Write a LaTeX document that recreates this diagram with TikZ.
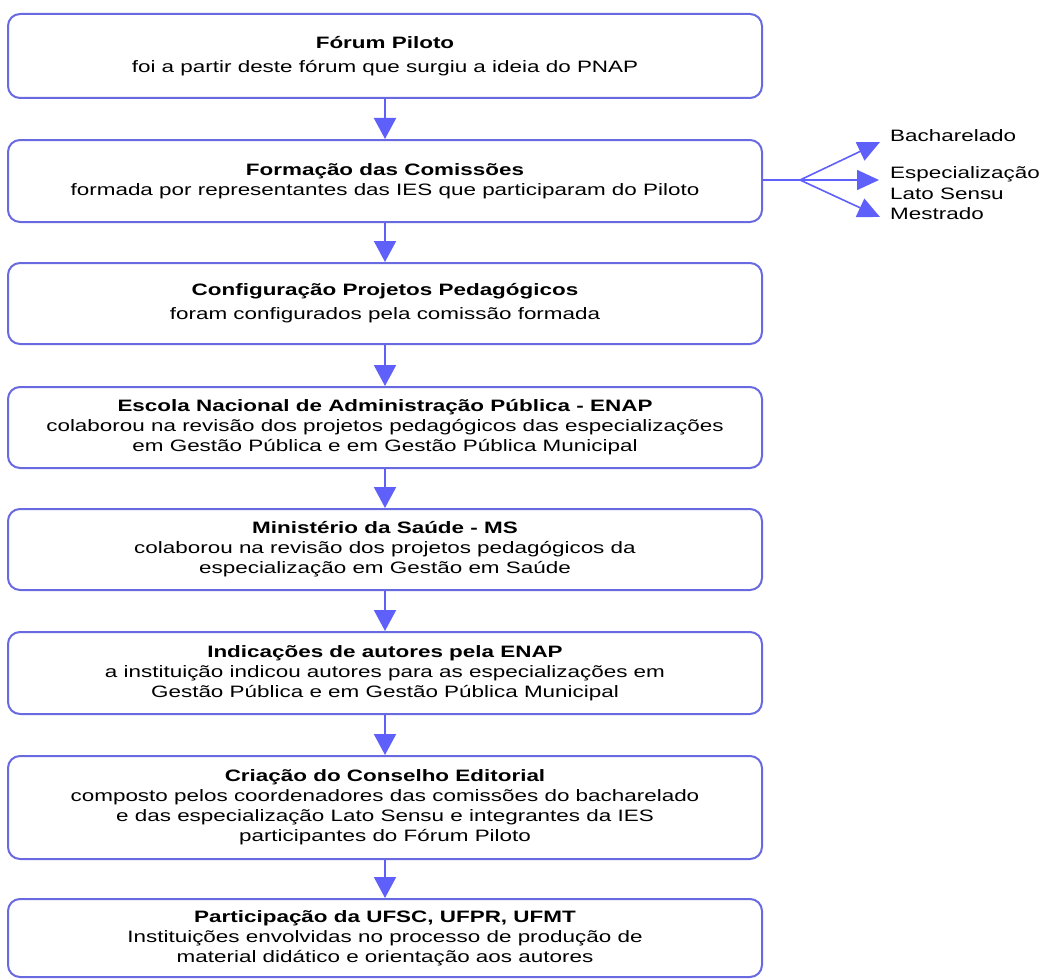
\documentclass[tikz,border=0pt]{standalone}
\usepackage{fontspec}
\setmainfont{Liberation Sans}[FakeStretch=1.36]
\usetikzlibrary{arrows.meta}

\definecolor{boxline}{RGB}{105,105,225}
\definecolor{seta}{RGB}{95,95,250}

\tikzset{
  etapa/.style={draw=boxline, line width=2pt, rounded corners=12pt,
    minimum width=754pt, align=center, inner sep=2pt,
    font=\fontsize{16.5}{20}\selectfont},
  fluxo/.style={draw=seta, line width=2pt, -{Triangle[width=22pt,length=21pt]}},
  ramo/.style={draw=seta, line width=1.6pt, -{Triangle[width=20pt,length=22pt]}},
  rotulo/.style={anchor=west, align=left, inner sep=0pt,
    font=\fontsize{16.5}{21}\selectfont}
}

\begin{document}
\begin{tikzpicture}[x=1pt,y=-1pt]
  \useasboundingbox (0,0) rectangle (1043,979);

  % etapas
  \node[etapa, minimum height=84pt] (forum) at (385,56)
    {\textbf{Fórum Piloto}\\[4pt]
     foi a partir deste fórum que surgiu a ideia do PNAP};
  \node[etapa, minimum height=82pt] (comissoes) at (385,181)
    {\textbf{Formação das Comissões}\\
     formada por representantes das IES que participaram do Piloto};
  \node[etapa, minimum height=81pt] (config) at (385,303.5)
    {\textbf{Configuração Projetos Pedagógicos}\\[4pt]
     foram configurados pela comissão formada};
  \node[etapa, minimum height=81pt] (enap) at (385,427.5)
    {\textbf{Escola Nacional de Administração Pública - ENAP}\\
     colaborou na revisão dos projetos pedagógicos das especializações\\
     em Gestão Pública e em Gestão Pública Municipal};
  \node[etapa, minimum height=81pt] (saude) at (385,549.5)
    {\textbf{Ministério da Saúde - MS}\\
     colaborou na revisão dos projetos pedagógicos da\\
     especialização em Gestão em Saúde};
  \node[etapa, minimum height=82pt] (autores) at (385,673)
    {\textbf{Indicações de autores pela ENAP}\\
     a instituição indicou autores para as especializações em\\
     Gestão Pública e em Gestão Pública Municipal};
  \node[etapa, minimum height=103pt] (conselho) at (385,807.5)
    {\textbf{Criação do Conselho Editorial}\\
     composto pelos coordenadores das comissões do bacharelado\\
     e das especialização Lato Sensu e integrantes da IES\\
     participantes do Fórum Piloto};
  \node[etapa, minimum height=78pt] (ufsc) at (385,938)
    {\textbf{Participação da UFSC, UFPR, UFMT}\\
     Instituições envolvidas no processo de produção de\\
     material didático e orientação aos autores};

  % setas entre etapas
  \draw[fluxo] (forum) -- (comissoes);
  \draw[fluxo] (comissoes) -- (config);
  \draw[fluxo] (config) -- (enap);
  \draw[fluxo] (enap) -- (saude);
  \draw[fluxo] (saude) -- (autores);
  \draw[fluxo] (autores) -- (conselho);
  \draw[fluxo] (conselho) -- (ufsc);

  % cursos
  \node[rotulo] (bach) at (890,136) {Bacharelado};
  \node[rotulo] (espec) at (890,183) {Especialização\\Lato Sensu};
  \node[rotulo] (mest) at (890,214) {Mestrado};

  \coordinate (divisao) at (800,180);
  \coordinate (pbach) at (880,142);
  \coordinate (pespec) at (879,180);
  \coordinate (pmest) at (880,217);
  \draw[draw=seta, line width=1.6pt] (comissoes.east |- divisao) -- (divisao);
  \draw[ramo] (divisao) -- (pbach);
  \draw[ramo] (divisao) -- (pespec);
  \draw[ramo] (divisao) -- (pmest);
\end{tikzpicture}
\end{document}
